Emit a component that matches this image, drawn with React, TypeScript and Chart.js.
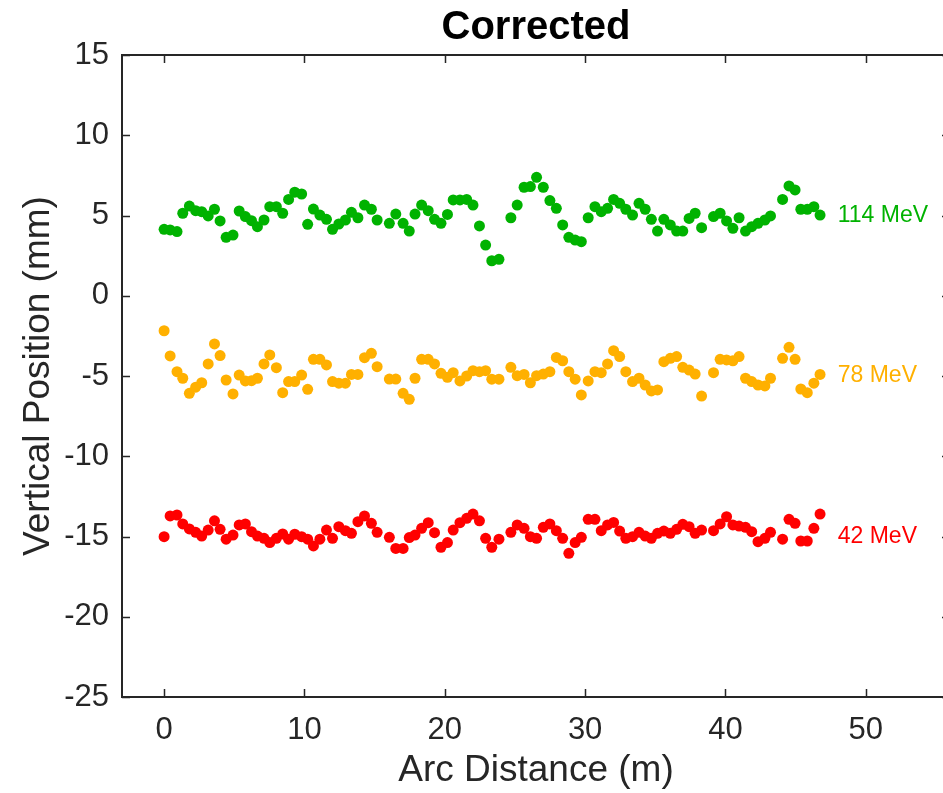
import React, { useEffect, useRef } from "react";
import { Chart, registerables } from "chart.js";

Chart.register(...registerables);

// Shared BPM positions along the arc (m)
const arcDistance = [
  0, 0.43, 0.92, 1.33, 1.8, 2.25, 2.68, 3.14, 3.59, 3.99,
  4.42, 4.91, 5.35, 5.79, 6.23, 6.65, 7.12, 7.53, 8.0, 8.45,
  8.87, 9.31, 9.8, 10.23, 10.64, 11.1, 11.57, 12.0, 12.45, 12.92,
  13.35, 13.81, 14.28, 14.77, 15.18, 16.05, 16.51, 17.03, 17.47, 17.88,
  18.35, 18.82, 19.27, 19.73, 20.19, 20.6, 21.08, 21.56, 22.01, 22.47,
  22.91, 23.35, 23.86, 24.71, 25.16, 25.65, 26.1, 26.54, 27.02, 27.49,
  27.95, 28.4, 28.84, 29.29, 29.73, 30.22, 30.7, 31.15, 31.6, 32.03,
  32.46, 32.9, 33.38, 33.84, 34.28, 34.72, 35.16, 35.61, 36.07, 36.52,
  36.96, 37.41, 37.84, 38.3, 39.15, 39.62, 40.08, 40.53, 40.97, 41.43,
  41.87, 42.32, 42.81, 43.21, 44.07, 44.53, 44.96, 45.37, 45.83, 46.3, 46.74,
];

const pos114 = [
  4.14, 4.1, 4.0, 5.14, 5.59, 5.3, 5.24, 4.97, 5.39, 4.66,
  3.64, 3.78, 5.28, 4.93, 4.68, 4.3, 4.72, 5.55, 5.55, 5.14,
  6.0, 6.45, 6.34, 4.45, 5.4, 5.03, 4.76, 4.14, 4.47, 4.72,
  5.2, 4.86, 5.65, 5.39, 4.72, 4.51, 5.09, 4.51, 4.03, 5.09,
  5.65, 5.3, 4.76, 4.51, 5.07, 5.97, 5.97, 6.0, 5.65, 4.35,
  3.16, 2.18, 2.27, 4.86, 5.65, 6.76, 6.8, 7.38, 6.76, 5.93,
  5.45, 4.41, 3.64, 3.47, 3.37, 4.86, 5.55, 5.24, 5.45, 6.0,
  5.76, 5.39, 5.03, 5.76, 5.39, 4.76, 4.03, 4.76, 4.41, 4.03,
  4.03, 4.82, 5.14, 4.24, 4.93, 5.14, 4.66, 4.2, 4.86, 4.03,
  4.3, 4.51, 4.72, 4.97, 6.0, 6.84, 6.59, 5.39, 5.39, 5.55, 5.03,
];

const pos78 = [
  -2.18, -3.75, -4.73, -5.14, -6.08, -5.7, -5.42, -4.25, -3.0, -3.73,
  -5.25, -6.12, -4.94, -5.31, -5.29, -5.14, -4.25, -3.69, -4.48, -6.04,
  -5.35, -5.35, -4.94, -5.83, -3.96, -3.96, -4.31, -5.35, -5.45, -5.45,
  -4.9, -4.9, -3.86, -3.59, -4.42, -5.19, -5.19, -6.08, -6.45, -5.14,
  -3.96, -3.96, -4.25, -4.83, -5.08, -4.79, -5.31, -5.0, -4.67, -4.73,
  -4.67, -5.2, -5.2, -4.46, -4.98, -4.9, -5.42, -4.98, -4.88, -4.73,
  -3.84, -4.05, -4.73, -5.2, -6.18, -5.31, -4.73, -4.79, -4.25, -3.42,
  -3.79, -4.73, -5.35, -5.14, -5.56, -5.93, -5.87, -4.11, -3.9, -3.79,
  -4.46, -4.63, -4.88, -6.25, -4.79, -3.96, -4.0, -4.05, -3.79, -5.14,
  -5.35, -5.56, -5.62, -5.14, -3.9, -3.21, -3.96, -5.81, -6.04, -5.45, -4.9,
];

const pos42 = [
  -15.01, -13.72, -13.66, -14.22, -14.53, -14.74, -14.97, -14.6, -14.02, -14.55,
  -15.17, -14.91, -14.28, -14.22, -14.7, -14.97, -15.11, -15.38, -15.11, -14.84,
  -15.17, -14.86, -15.01, -15.17, -15.59, -15.17, -14.6, -15.11, -14.39, -14.64,
  -14.8, -14.08, -13.72, -14.18, -14.74, -15.05, -15.74, -15.74, -15.07, -14.91,
  -14.49, -14.14, -14.76, -15.67, -15.38, -14.6, -14.14, -13.87, -13.6, -14.02,
  -15.11, -15.67, -15.17, -14.74, -14.28, -14.49, -15.01, -15.11, -14.43, -14.22,
  -14.64, -15.11, -16.05, -15.38, -15.05, -13.93, -13.93, -14.64, -14.28, -14.12,
  -14.66, -15.11, -15.01, -14.74, -14.97, -15.11, -14.8, -14.66, -14.8, -14.55,
  -14.24, -14.39, -14.8, -14.6, -14.64, -14.22, -13.77, -14.28, -14.35, -14.43,
  -14.7, -15.32, -15.11, -14.74, -15.17, -13.93, -14.18, -15.28, -15.28, -14.49, -13.6,
];

const chartTitle = "Corrected";
const seriesNames = ["114 MeV", "78 MeV", "42 MeV"];
const seriesLabelY = [5, -5, -15];
const seriesLabelX = 48.0;
const xTicks = [0, 10, 20, 30, 40, 50];
const yTicks = [-25, -20, -15, -10, -5, 0, 5, 10, 15];

const GREEN = "rgb(0,178,0)";
const ORANGE = "rgb(255,176,0)";
const RED = "rgb(255,0,0)";
const AXIS = "#262626";
const FONT = "'Liberation Sans', Arial, Helvetica, sans-serif";

const toPoints = (ys: number[]) => ys.map((y, i) => ({ x: arcDistance[i], y }));

const boxPlugin = {
  id: "boxTicksLabels",
  afterDatasetsDraw(chart: any) {
    const { ctx, chartArea, scales } = chart;
    const { left, right, top, bottom } = chartArea;
    const xs = scales.x;
    const ys = scales.y;
    ctx.save();
    ctx.strokeStyle = AXIS;
    ctx.lineWidth = 1.5;
    const tl = 8;
    ctx.beginPath();
    xTicks.forEach((v) => {
      const px = Math.round(xs.getPixelForValue(v)) + 0.5;
      ctx.moveTo(px, bottom);
      ctx.lineTo(px, bottom - tl);
      ctx.moveTo(px, top);
      ctx.lineTo(px, top + tl);
    });
    yTicks.forEach((v) => {
      const py = Math.round(ys.getPixelForValue(v)) + 0.5;
      ctx.moveTo(left, py);
      ctx.lineTo(left + tl, py);
      ctx.moveTo(right, py);
      ctx.lineTo(right - tl, py);
    });
    ctx.stroke();
    ctx.lineWidth = 2;
    ctx.strokeRect(left, top, right - left, bottom - top);

    // title centred over the plot box
    ctx.fillStyle = "#000";
    ctx.font = `bold 40px ${FONT}`;
    ctx.textAlign = "center";
    ctx.textBaseline = "middle";
    ctx.fillText(chartTitle, (left + right) / 2, 28);

    ctx.font = `23px ${FONT}`;
    ctx.textAlign = "left";
    ctx.textBaseline = "middle";
    const colors = [GREEN, ORANGE, RED];
    seriesNames.forEach((name, i) => {
      ctx.fillStyle = colors[i];
      ctx.fillText(name, xs.getPixelForValue(seriesLabelX), ys.getPixelForValue(seriesLabelY[i]));
    });
    ctx.restore();
  },
};

export default function App() {
  const ref = useRef<HTMLCanvasElement | null>(null);
  useEffect(() => {
    if (!ref.current) return;
    Chart.defaults.font.family = FONT;
    const mk = (data: any[], color: string, label: string) => ({
      label,
      data,
      backgroundColor: color,
      borderColor: color,
      borderWidth: 0,
      pointRadius: 5.5,
      pointHoverRadius: 5.5,
      showLine: false,
    });
    const chart = new Chart(ref.current, {
      type: "scatter",
      data: {
        datasets: [
          mk(toPoints(pos114), GREEN, seriesNames[0]),
          mk(toPoints(pos78), ORANGE, seriesNames[1]),
          mk(toPoints(pos42), RED, seriesNames[2]),
        ],
      },
      options: {
        animation: false,
        responsive: false,
        devicePixelRatio: 1,
        layout: { padding: { left: 0, right: 10, top: 55, bottom: 0 } },
        plugins: {
          legend: { display: false },
          tooltip: { enabled: false },
          title: { display: false },
        },
        scales: {
          x: {
            type: "linear",
            min: -3,
            max: 56,
            grid: { display: false, drawTicks: false },
            border: { display: false },
            afterBuildTicks: (s: any) => {
              s.ticks = xTicks.map((v) => ({ value: v }));
            },
            afterFit: (s: any) => {
              s.height = 96;
            },
            ticks: {
              color: AXIS,
              padding: 15,
              font: { size: 31, family: FONT },
              maxRotation: 0,
              autoSkip: false,
            },
            title: {
              display: true,
              text: "Arc Distance (m)",
              color: AXIS,
              font: { size: 37, family: FONT },
              padding: { top: 0, bottom: 0 },
            },
          },
          y: {
            type: "linear",
            min: -25,
            max: 15,
            grid: { display: false, drawTicks: false },
            border: { display: false },
            afterBuildTicks: (s: any) => {
              s.ticks = yTicks.map((v) => ({ value: v }));
            },
            afterFit: (s: any) => {
              s.width = 122;
            },
            ticks: {
              color: AXIS,
              padding: 13,
              font: { size: 31, family: FONT },
              autoSkip: false,
            },
            title: {
              display: true,
              text: "Vertical Position (mm)",
              color: AXIS,
              font: { size: 37, family: FONT },
              padding: { top: 17, bottom: 0 },
            },
          },
        },
      },
      plugins: [boxPlugin],
    });
    return () => chart.destroy();
  }, []);

  return (
    <div
      style={{
        position: "absolute",
        left: 0,
        top: 0,
        width: 943,
        height: 793,
        overflow: "hidden",
        background: "#fff",
      }}
    >
      <canvas ref={ref} width={960} height={793} style={{ display: "block" }} />
    </div>
  );
}
